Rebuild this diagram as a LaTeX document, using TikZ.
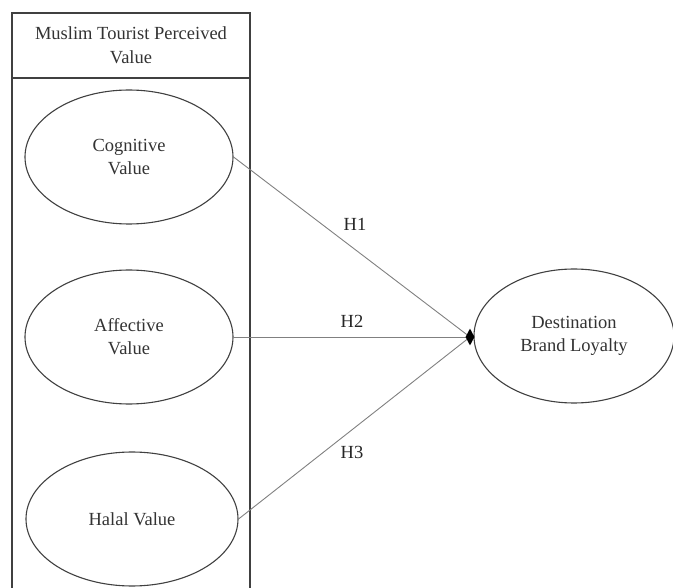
\documentclass[tikz,border=0pt]{standalone}
\usepackage{fontspec}
\setmainfont{Liberation Serif}
\usetikzlibrary{shapes.geometric}
\begin{document}
\begin{tikzpicture}[x=1pt,y=-1pt,
  construct/.style={draw=black!75, line width=1.1pt, ellipse, minimum width=208pt, minimum height=134pt, inner sep=0pt, align=center, text=black!80, font=\fontsize{18.5}{23}\selectfont},
  boxline/.style={draw=black!75, line width=1.1pt},
  link/.style={draw=black!50, line width=0.9pt},
  hlabel/.style={text=black!85, font=\fontsize{18.5}{23}\selectfont, inner sep=0pt},
  tiphead/.style={diamond, fill=black, inner sep=0pt, minimum width=9pt, minimum height=17pt}]
\useasboundingbox (0,0) rectangle (673,588);
\clip (0,0) rectangle (673,588);
\draw[boxline] (12,13) rectangle (250,600);
\draw[boxline] (12,78) -- (250,78);
\node[align=center, text=black!80, font=\fontsize{18.5}{24}\selectfont] (title) at (131,45) {Muslim Tourist Perceived\\Value};
\node[construct] (cog) at (129,157) {Cognitive\\Value};
\node[construct] (aff) at (129,337) {Affective\\Value};
\node[construct, minimum width=212pt] (hal) at (132,519) {Halal Value};
\node[construct, minimum width=200pt] (dbl) at (574,336) {Destination\\Brand Loyalty};
\coordinate (tip) at (470,337);
\draw[link] (cog.east) -- (tip);
\draw[link] (aff.east) -- (tip);
\draw[link] (hal.east) -- (tip);
\node[tiphead] (head) at (tip) {};
\node[hlabel] (h1) at (355,224) {H1};
\node[hlabel] (h2) at (352,321) {H2};
\node[hlabel] (h3) at (352,452) {H3};
\end{tikzpicture}
\end{document}
